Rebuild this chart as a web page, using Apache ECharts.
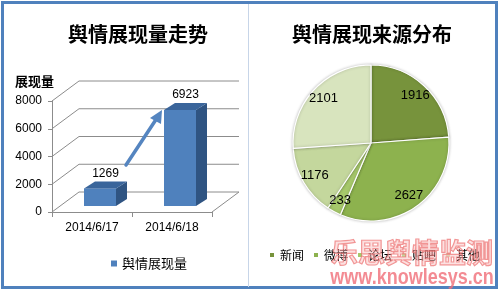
<!DOCTYPE html>
<html><head><meta charset="utf-8">
<script src="https://cdn.jsdelivr.net/npm/echarts@6/dist/echarts.min.js"></script>
<style>html,body{margin:0;padding:0;background:#fff}#c{width:500px;height:292px}</style>
</head><body><div id="c"></div>
<script>
// ---- data ----
const categories = ['2014/6/17', '2014/6/18'];
const barValues = [1269, 6923];
const barSeriesName = '舆情展现量';
const yTicks = [0, 2000, 4000, 6000, 8000];
const sources = ['新闻', '微博', '论坛', '贴吧', '其他'];
const sourceValues = [1916, 2627, 233, 1176, 2101];
const leftTitle = '舆情展现量走势';
const rightTitle = '舆情展现来源分布';
const yName = '展现量';

// ---- styles ----
const sourceColors = ['#77933C', '#8DB24E', '#A6C86B', '#C4D79D', '#D8E4BE'];
const FONT = "'Liberation Sans','Noto Sans CJK SC',sans-serif";
const CJK = "'Noto Sans CJK SC',sans-serif";
const DX = 27, DY = -20;      // depth of the 3D box
const BDX = 8, BDY = -6;      // plane of the bars
const BW = 32, BDEP_X = 11, BDEP_Y = -7;

const chart = echarts.init(document.getElementById('c'), null, {renderer: 'canvas'});

function wallItem(params, api) {
  const cs = params.coordSys;
  const v = api.value(1);
  const y = api.coord([0, v])[1];
  const st = {stroke: '#8C8C8C', lineWidth: 1};
  const ch = [
    {type: 'line', shape: {x1: cs.x, y1: y, x2: cs.x + DX, y2: y + DY}, style: st},
    {type: 'line', shape: {x1: cs.x + DX, y1: y + DY, x2: cs.x + cs.width + DX, y2: y + DY}, style: st}
  ];
  if (v === 0) {
    ch.push({type: 'line', shape: {x1: cs.x + cs.width, y1: y, x2: cs.x + cs.width + DX, y2: y + DY}, style: st});
  }
  return {type: 'group', children: ch};
}

function barItem(params, api) {
  const i = api.value(0), v = api.value(1);
  const top = api.coord([i, v]);
  const base = api.coord([i, 0]);
  const cx = top[0] + BDX;
  const yt = top[1] + BDY, yb = base[1] + BDY;
  const l = cx - BW / 2, r = cx + BW / 2;
  return {type: 'group', children: [
    {type: 'polygon', shape: {points: [[r, yt], [r + BDEP_X, yt + BDEP_Y], [r + BDEP_X, yb + BDEP_Y], [r, yb]]},
      style: {fill: '#2F5482'}},
    {type: 'rect', shape: {x: l, y: yt, width: BW, height: yb - yt}, style: {fill: '#4F81BD'}},
    {type: 'polygon', shape: {points: [[l, yt], [l + BDEP_X, yt + BDEP_Y], [r + BDEP_X, yt + BDEP_Y], [r, yt]]},
      style: {fill: '#3A659B'}},
    {type: 'text', x: cx + BDEP_X / 2, y: yt + BDEP_Y - 2,
      style: {text: String(v), fill: '#000', font: '12px ' + FONT, align: 'center', verticalAlign: 'bottom'}}
  ]};
}

const option = {
  backgroundColor: '#fff',
  animation: false,
  title: [
    {text: leftTitle, left: 133, top: 19, textAlign: 'center',
      textStyle: {fontSize: 20, fontWeight: 'bold', color: '#000', fontFamily: CJK}},
    {text: rightTitle, left: 367, top: 19, textAlign: 'center',
      textStyle: {fontSize: 20, fontWeight: 'bold', color: '#000', fontFamily: CJK}}
  ],
  legend: [
    {data: [barSeriesName], left: 106, top: 252, icon: 'rect', itemWidth: 6, itemHeight: 6, itemGap: 8,
      textStyle: {fontSize: 13, color: '#000', fontFamily: CJK}},
    {data: sources, left: 263, top: 244, icon: 'rect', itemWidth: 6, itemHeight: 6, itemGap: 8,
      textStyle: {fontSize: 12, color: '#000', fontFamily: CJK}}
  ],
  grid: {left: 52, top: 101, width: 160, height: 111},
  xAxis: {type: 'category', data: categories,
    axisLine: {lineStyle: {color: '#8C8C8C'}},
    axisTick: {show: true, length: 5, lineStyle: {color: '#8C8C8C'}},
    axisLabel: {fontSize: 12, color: '#000', margin: 10, fontFamily: FONT}},
  yAxis: {type: 'value', min: 0, max: 8000, interval: 2000,
    name: yName, nameLocation: 'end', nameGap: 13,
    nameTextStyle: {fontSize: 13, fontWeight: 'bold', color: '#000', align: 'right', padding: [0, -2, 0, 0], fontFamily: CJK},
    axisLine: {show: true, lineStyle: {color: '#8C8C8C'}},
    axisTick: {show: true, length: 4, lineStyle: {color: '#8C8C8C'}},
    splitLine: {show: false},
    axisLabel: {fontSize: 12, color: '#000', margin: 10, fontFamily: FONT, formatter: v => String(v)}},
  series: [
    {type: 'custom', silent: true, renderItem: wallItem, data: yTicks.map(v => [0, v]),
      encode: {x: 0, y: 1}, z: 1},
    {type: 'custom', name: barSeriesName, renderItem: barItem, itemStyle: {color: '#4F81BD'},
      data: barValues.map((v, i) => [i, v]), encode: {x: 0, y: 1}, z: 3},
    {type: 'pie', center: [371, 143], radius: 78, startAngle: 90, clockwise: true,
      label: {show: false}, labelLine: {show: false},
      itemStyle: {borderColor: '#fff', borderWidth: 1.2, shadowBlur: 3, shadowColor: 'rgba(0,0,0,0.25)'},
      data: sources.map((n, i) => ({name: n, value: sourceValues[i], itemStyle: {color: sourceColors[i]}}))},
    {type: 'pie', center: [371, 143], radius: [46, 78], startAngle: 90, clockwise: true, silent: true,
      legendHoverLink: false,
      label: {show: true, position: 'inside', formatter: '{c}', fontSize: 13, color: '#000', fontFamily: FONT},
      labelLine: {show: false},
      itemStyle: {color: 'rgba(0,0,0,0)'},
      data: sources.map((n, i) => ({name: n + ' ', value: sourceValues[i]}))}
  ],
  graphic: [
    {type: 'rect', shape: {x: 2.5, y: 2.5, width: 494, height: 285}, style: {fill: 'none', stroke: '#4F81BD', lineWidth: 3}, z: 50},
    {type: 'line', shape: {x1: 248.5, y1: 4, x2: 248.5, y2: 287}, style: {stroke: '#C7D5E8', lineWidth: 1}, z: 50},
    // arrow annotation
    {type: 'line', shape: {x1: 126, y1: 165, x2: 157, y2: 118}, style: {stroke: '#5585C0', lineWidth: 3.5, lineCap: 'round'}, z: 40},
    {type: 'polygon', shape: {points: [[162, 110], [150, 118], [161, 124]]}, style: {fill: '#5585C0'}, z: 40},
    // watermark
    {type: 'text', x: 412, y: 253, z: 60, style: {text: '乐思舆情监测', font: 'bold 27px ' + CJK, fill: 'rgba(246,170,170,0.35)',
      stroke: 'rgba(236,110,110,0.75)', lineWidth: 1.2, align: 'center', verticalAlign: 'middle'}},
    {type: 'text', x: 412, y: 278, z: 60, scaleY: 1.2, scaleX: 1.0,
      style: {text: 'www.knowlesys.cn', font: 'bold 18px ' + FONT, fill: 'rgba(240,110,120,0.8)', align: 'center', verticalAlign: 'middle'}}
  ]
};
chart.setOption(option);
</script></body></html>
